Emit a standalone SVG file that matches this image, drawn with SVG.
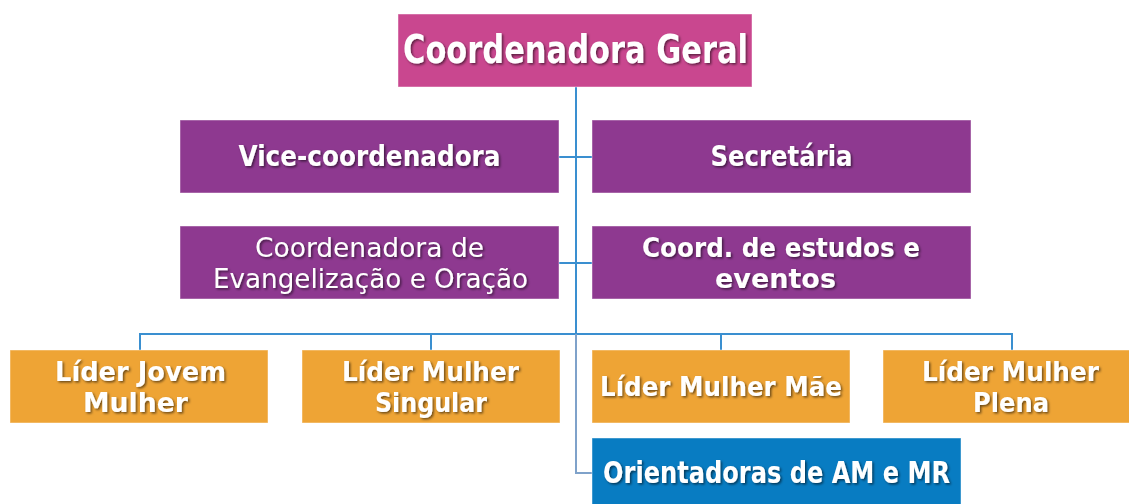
<svg xmlns="http://www.w3.org/2000/svg" width="1129" height="504" viewBox="0 0 1129 504">
<defs>
<filter id="sh" x="-10%" y="-30%" width="120%" height="160%">
<feDropShadow dx="1.5" dy="1.5" stdDeviation="1" flood-color="#000" flood-opacity="0.55"/>
</filter>
</defs>
<style>
.box{stroke:#ffffff;stroke-opacity:0.45;stroke-width:1}
.pink{fill:#C9478F}
.purple{fill:#8E3990}
.orange{fill:#EEA435}
.blue{fill:#087CC2}
text{font-family:"DejaVu Sans Condensed","DejaVu Sans",sans-serif;fill:#fff;text-anchor:middle;filter:url(#sh)}
.b{font-weight:bold}
.c{fill:none;stroke:#3A8FD0;stroke-width:2}
.c2{fill:none;stroke:#7FA2CA;stroke-width:2}
</style>
<g id="connectors">
<path class="c" d="M576 87V334"/>
<path class="c" d="M559 157H592M559 263H592"/>
<path class="c" d="M140 350V334H1012V350M431 334V350M721 334V350"/>
<path class="c2" d="M576 334V473H592"/>
</g>
<g id="n-geral">
<rect class="box pink" x="398" y="14" width="354" height="73"/>
<text class="b" x="575.5" y="63" font-size="39" textLength="345" lengthAdjust="spacingAndGlyphs">Coordenadora Geral</text>
</g>
<g id="n-vice">
<rect class="box purple" x="180" y="120" width="379" height="73"/>
<text class="b" x="369.5" y="166" font-size="29" textLength="262" lengthAdjust="spacingAndGlyphs">Vice-coordenadora</text>
</g>
<g id="n-secretaria">
<rect class="box purple" x="592" y="120" width="379" height="73"/>
<text class="b" x="781.5" y="166" font-size="29" textLength="142" lengthAdjust="spacingAndGlyphs">Secretária</text>
</g>
<g id="n-evangelizacao">
<rect class="box purple" x="180" y="226" width="379" height="73"/>
<text x="369.5" y="257" font-size="27" textLength="229" lengthAdjust="spacingAndGlyphs">Coordenadora de</text>
<text x="370.5" y="288" font-size="27" textLength="315" lengthAdjust="spacingAndGlyphs">Evangelização e Oração</text>
</g>
<g id="n-estudos">
<rect class="box purple" x="592" y="226" width="379" height="73"/>
<text class="b" x="781" y="257" font-size="27" textLength="278" lengthAdjust="spacingAndGlyphs">Coord. de estudos e</text>
<text class="b" x="775.5" y="288" font-size="27" textLength="121" lengthAdjust="spacingAndGlyphs">eventos</text>
</g>
<g id="n-jovem">
<rect class="box orange" x="10" y="350" width="258" height="73"/>
<text class="b" x="140.5" y="381" font-size="27" textLength="171" lengthAdjust="spacingAndGlyphs">Líder Jovem</text>
<text class="b" x="135.5" y="412" font-size="27" textLength="105" lengthAdjust="spacingAndGlyphs">Mulher</text>
</g>
<g id="n-singular">
<rect class="box orange" x="302" y="350" width="258" height="73"/>
<text class="b" x="430.5" y="381" font-size="27" textLength="177" lengthAdjust="spacingAndGlyphs">Líder Mulher</text>
<text class="b" x="431" y="412" font-size="27" textLength="112" lengthAdjust="spacingAndGlyphs">Singular</text>
</g>
<g id="n-mae">
<rect class="box orange" x="592" y="350" width="258" height="73"/>
<text class="b" x="721" y="396" font-size="27" textLength="242" lengthAdjust="spacingAndGlyphs">Líder Mulher Mãe</text>
</g>
<g id="n-plena">
<rect class="box orange" x="883" y="350" width="258" height="73"/>
<text class="b" x="1010.5" y="381" font-size="27" textLength="177" lengthAdjust="spacingAndGlyphs">Líder Mulher</text>
<text class="b" x="1011" y="412" font-size="27" textLength="76" lengthAdjust="spacingAndGlyphs">Plena</text>
</g>
<g id="n-orientadoras">
<rect class="box blue" x="592" y="438" width="369" height="80"/>
<text class="b" x="776.5" y="483" font-size="30" textLength="347" lengthAdjust="spacingAndGlyphs">Orientadoras de AM e MR</text>
</g>
</svg>
